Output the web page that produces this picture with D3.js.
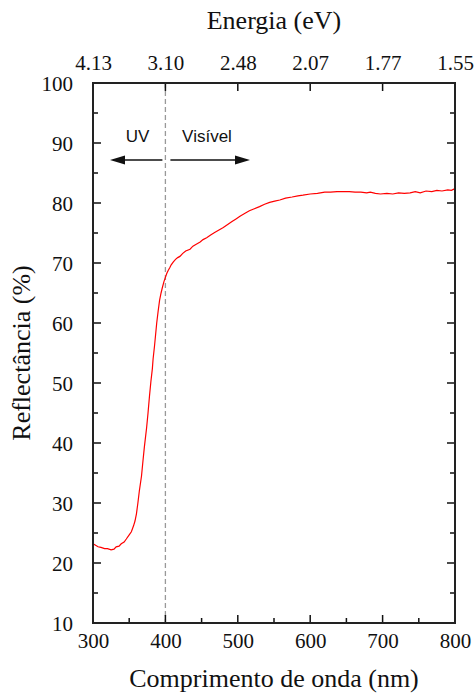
<!DOCTYPE html>
<html><head><meta charset="utf-8">
<script src="https://cdn.jsdelivr.net/npm/d3@7"></script>
<style>body{margin:0;background:#fff}svg{display:block}</style>
</head><body>
<script>
const wavelength = [300,303,307,311,316,320,325,329,332,336,339,343,346,350,353,356,358,360,362,364,367,369,371,374,376,378,380,382,383,385,388,390,392,394,396,398,400,402,404,406,408,411,414,417,420,424,428,434,438,442,448,452,457,463,468,474,480,486,492,497,503,510,516,522,530,537,544,551,558,566,575,583,590,600,610,620,628,637,645,654,662,670,678,683,690,697,706,714,722,730,738,745,752,760,768,775,782,790,795,800];
const reflectance = [23.2,23.0,22.7,22.6,22.4,22.4,22.2,22.3,22.7,22.8,23.2,23.5,24.0,24.7,25.2,26.2,27.0,28.2,30.0,32.0,34.5,37.0,39.4,42.5,45.0,47.8,50.3,52.4,54.0,56.2,60.0,62.0,63.8,65.0,66.0,66.9,67.6,68.3,68.8,69.2,69.7,70.2,70.6,70.9,71.1,71.6,72.0,72.3,72.8,73.1,73.5,73.9,74.2,74.7,75.1,75.5,75.9,76.4,76.9,77.3,77.8,78.3,78.7,79.0,79.4,79.8,80.1,80.3,80.5,80.8,81.0,81.2,81.3,81.5,81.6,81.8,81.8,81.9,81.9,81.9,81.8,81.8,81.7,81.8,81.6,81.5,81.6,81.5,81.7,81.6,81.7,81.9,81.7,82.0,81.9,82.1,82.0,82.2,82.1,82.4];
const xTicks = [300,400,500,600,700,800];
const yTicks = [10,20,30,40,50,60,70,80,90,100];
const energyLabels = ["4.13","3.10","2.48","2.07","1.77","1.55"];
const uvVisBoundary = 400;

const W = 476, H = 695;
const m = {l:93, r:455, t:83, b:623};
const svg = d3.select("body").append("svg").attr("width",W).attr("height",H);
const x = d3.scaleLinear().domain([300,800]).range([m.l,m.r]);
const y = d3.scaleLinear().domain([10,100]).range([m.b,m.t]);
const serif = "Liberation Serif";
const sans = "Liberation Sans";

// dashed boundary
svg.append("line").attr("x1",x(uvVisBoundary)).attr("x2",x(uvVisBoundary))
  .attr("y1",m.t).attr("y2",m.b).attr("stroke","#999").attr("stroke-width",1.3)
  .attr("stroke-dasharray","5,3");

// curve
const pts = wavelength.map((w,i)=>[w,reflectance[i]]);
svg.append("path").datum(pts)
  .attr("d",d3.line().x(d=>x(d[0])).y(d=>y(d[1])))
  .attr("fill","none").attr("stroke","#ff0000").attr("stroke-width",1.2);

// axes (labels only), inner ticks drawn separately
function ax(gen, tr){ return svg.append("g").attr("transform",tr).call(gen); }
const gBottom = ax(d3.axisBottom(x).tickValues(xTicks).tickSize(0).tickPadding(10).tickFormat(d3.format("d")), `translate(0,${m.b})`);
const gTop = ax(d3.axisTop(x).tickValues(xTicks).tickSize(0).tickPadding(13).tickFormat((d,i)=>energyLabels[i]), `translate(0,${m.t})`);
const gLeft = ax(d3.axisLeft(y).tickValues(yTicks).tickSize(0).tickPadding(20).tickFormat(d3.format("d")), `translate(${m.l},0)`);
[gBottom,gTop,gLeft].forEach(g=>{
  g.attr("font-family",serif).attr("font-size",21);
  g.select(".domain").remove();
  g.selectAll("text").attr("fill","#111");
});
gBottom.selectAll("text").attr("dy","0.71em");
gLeft.selectAll("text").attr("dy","0.35em");

const minorX = d3.range(300,801,50), minorY = d3.range(10,101,5);
const tg = svg.append("g").attr("stroke","#111").attr("stroke-width",1.5);
minorX.forEach(v=>{
  const L = (v%100===0)?8:5;
  tg.append("line").attr("x1",x(v)).attr("x2",x(v)).attr("y1",m.b).attr("y2",m.b-L);
  if (v%100===0) tg.append("line").attr("x1",x(v)).attr("x2",x(v)).attr("y1",m.t).attr("y2",m.t+L);
});
minorY.forEach(v=>{
  const L = (v%10===0)?8:5;
  tg.append("line").attr("x1",m.l).attr("x2",m.l+L).attr("y1",y(v)).attr("y2",y(v));
  tg.append("line").attr("x1",m.r).attr("x2",m.r-L).attr("y1",y(v)).attr("y2",y(v));
});
svg.append("rect").attr("x",m.l).attr("y",m.t).attr("width",m.r-m.l).attr("height",m.b-m.t)
  .attr("fill","none").attr("stroke","#222").attr("stroke-width",2);

// titles
svg.append("text").attr("x",(m.l+m.r)/2).attr("y",687).attr("text-anchor","middle")
  .attr("font-family",serif).attr("font-size",26).attr("fill","#111").text("Comprimento de onda (nm)");
svg.append("text").attr("x",(m.l+m.r)/2).attr("y",29).attr("text-anchor","middle")
  .attr("font-family",serif).attr("font-size",26).attr("fill","#111").text("Energia (eV)");
svg.append("text").attr("transform",`translate(30,${(m.t+m.b)/2}) rotate(-90)`).attr("text-anchor","middle")
  .attr("font-family",serif).attr("font-size",26).attr("fill","#111").text("Reflectância (%)");

// annotations
const ay = 160;
svg.append("text").attr("x",137.5).attr("y",142).attr("text-anchor","middle")
  .attr("font-family",sans).attr("font-size",17).attr("fill","#111").text("UV");
svg.append("text").attr("x",207).attr("y",142).attr("text-anchor","middle")
  .attr("font-family",sans).attr("font-size",17).attr("fill","#111").text("Visível");
function arrow(x0,x1){
  const dir = Math.sign(x1-x0), hl=15, hw=4.5;
  svg.append("line").attr("x1",x0).attr("x2",x1-dir*hl).attr("y1",ay).attr("y2",ay)
    .attr("stroke","#111").attr("stroke-width",1.3);
  svg.append("path").attr("d",`M${x1},${ay}L${x1-dir*hl},${ay-hw}L${x1-dir*hl},${ay+hw}Z`).attr("fill","#111");
}
arrow(x(uvVisBoundary)-3, 110);
arrow(x(uvVisBoundary)+5, 250);
</script>
</body></html>
